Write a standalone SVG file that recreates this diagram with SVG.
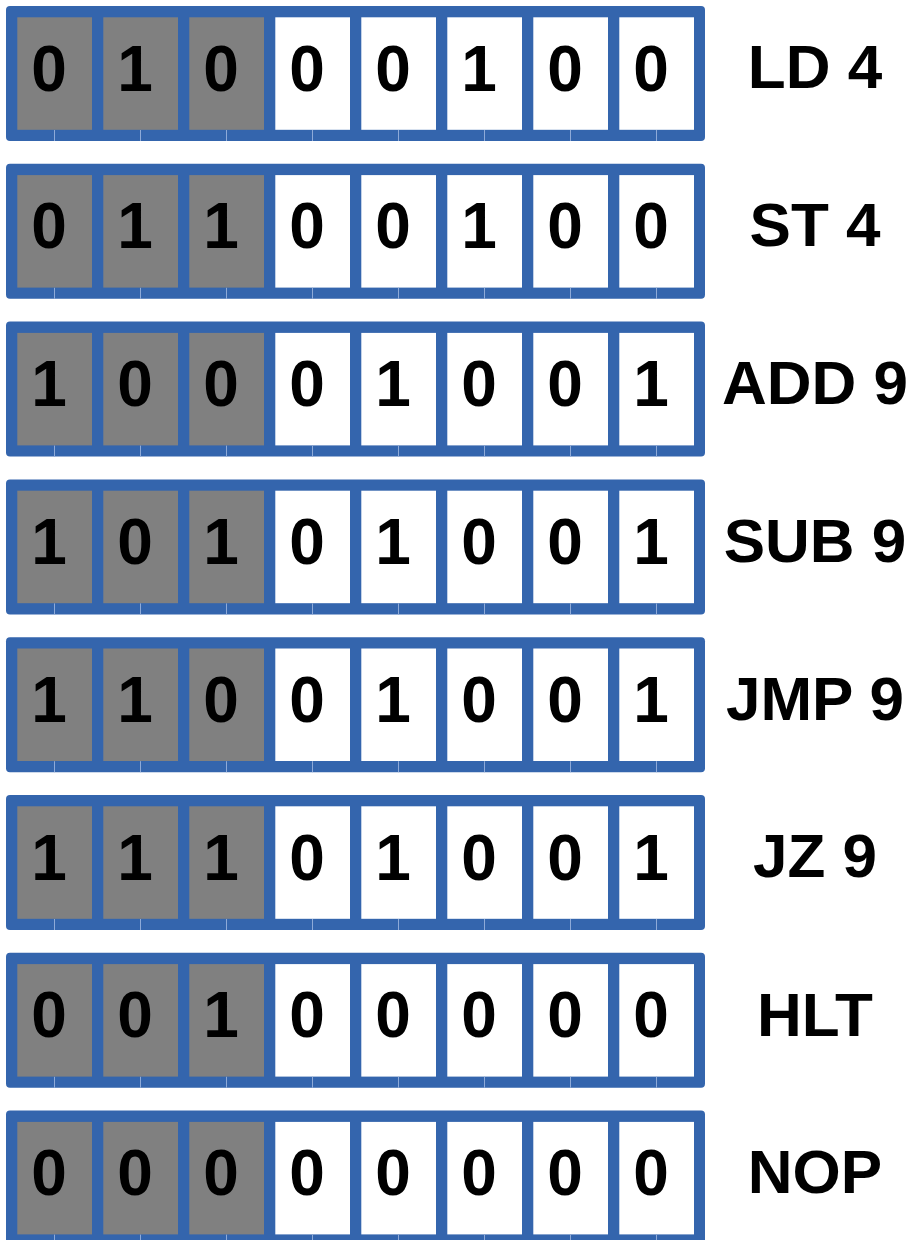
<svg xmlns="http://www.w3.org/2000/svg" width="921" height="1240" viewBox="0 0 921 1240">
<style>
.frame{fill:#3465ad}
.op{fill:#808080}
.arg{fill:#ffffff}
.tick{stroke:#8eaad8;stroke-width:1}
.bit{font-family:"Liberation Sans",Arial,sans-serif;font-weight:bold;font-size:64px;fill:#000;text-anchor:middle}
.lbl{font-family:"Liberation Sans",Arial,sans-serif;font-weight:bold;font-size:62px;fill:#000;text-anchor:middle}
</style>
<defs>
<g id="cells">
<rect class="frame" x="6" y="0" width="699" height="135" rx="4"/>
<rect class="op" x="17.3" y="11.3" width="74.7" height="112.5"/>
<rect class="op" x="103.3" y="11.3" width="74.7" height="112.5"/>
<rect class="op" x="189.3" y="11.3" width="74.7" height="112.5"/>
<rect class="arg" x="275.3" y="11.3" width="74.7" height="112.5"/>
<rect class="arg" x="361.3" y="11.3" width="74.7" height="112.5"/>
<rect class="arg" x="447.3" y="11.3" width="74.7" height="112.5"/>
<rect class="arg" x="533.3" y="11.3" width="74.7" height="112.5"/>
<rect class="arg" x="619.3" y="11.3" width="74.7" height="112.5"/>
<path class="tick" d="M54.5 124V135M140.5 124V135M226.5 124V135M312.5 124V135M398.5 124V135M484.5 124V135M570.5 124V135M656.5 124V135"/>
</g>
</defs>
<g id="row-ld4" transform="translate(0,6)">
<use href="#cells"/>
<text class="bit" y="84.5"><tspan x="49">0</tspan><tspan x="135">1</tspan><tspan x="221">0</tspan><tspan x="307">0</tspan><tspan x="393">0</tspan><tspan x="479">1</tspan><tspan x="565">0</tspan><tspan x="651">0</tspan></text>
<text class="lbl" x="815" y="81.5">LD 4</text>
</g>
<g id="row-st4" transform="translate(0,163.8)">
<use href="#cells"/>
<text class="bit" y="84.5"><tspan x="49">0</tspan><tspan x="135">1</tspan><tspan x="221">1</tspan><tspan x="307">0</tspan><tspan x="393">0</tspan><tspan x="479">1</tspan><tspan x="565">0</tspan><tspan x="651">0</tspan></text>
<text class="lbl" x="815" y="82">ST 4</text>
</g>
<g id="row-add9" transform="translate(0,321.6)">
<use href="#cells"/>
<text class="bit" y="84.5"><tspan x="49">1</tspan><tspan x="135">0</tspan><tspan x="221">0</tspan><tspan x="307">0</tspan><tspan x="393">1</tspan><tspan x="479">0</tspan><tspan x="565">0</tspan><tspan x="651">1</tspan></text>
<text class="lbl" x="815" y="82.4">ADD 9</text>
</g>
<g id="row-sub9" transform="translate(0,479.4)">
<use href="#cells"/>
<text class="bit" y="84.5"><tspan x="49">1</tspan><tspan x="135">0</tspan><tspan x="221">1</tspan><tspan x="307">0</tspan><tspan x="393">1</tspan><tspan x="479">0</tspan><tspan x="565">0</tspan><tspan x="651">1</tspan></text>
<text class="lbl" x="815" y="82.4">SUB 9</text>
</g>
<g id="row-jmp9" transform="translate(0,637.2)">
<use href="#cells"/>
<text class="bit" y="84.5"><tspan x="49">1</tspan><tspan x="135">1</tspan><tspan x="221">0</tspan><tspan x="307">0</tspan><tspan x="393">1</tspan><tspan x="479">0</tspan><tspan x="565">0</tspan><tspan x="651">1</tspan></text>
<text class="lbl" x="815" y="82.4">JMP 9</text>
</g>
<g id="row-jz9" transform="translate(0,795)">
<use href="#cells"/>
<text class="bit" y="84.5"><tspan x="49">1</tspan><tspan x="135">1</tspan><tspan x="221">1</tspan><tspan x="307">0</tspan><tspan x="393">1</tspan><tspan x="479">0</tspan><tspan x="565">0</tspan><tspan x="651">1</tspan></text>
<text class="lbl" x="815" y="82.4">JZ 9</text>
</g>
<g id="row-hlt" transform="translate(0,952.8)">
<use href="#cells"/>
<text class="bit" y="84.5"><tspan x="49">0</tspan><tspan x="135">0</tspan><tspan x="221">1</tspan><tspan x="307">0</tspan><tspan x="393">0</tspan><tspan x="479">0</tspan><tspan x="565">0</tspan><tspan x="651">0</tspan></text>
<text class="lbl" x="815" y="83">HLT</text>
</g>
<g id="row-nop" transform="translate(0,1110.6)">
<use href="#cells"/>
<text class="bit" y="84"><tspan x="49">0</tspan><tspan x="135">0</tspan><tspan x="221">0</tspan><tspan x="307">0</tspan><tspan x="393">0</tspan><tspan x="479">0</tspan><tspan x="565">0</tspan><tspan x="651">0</tspan></text>
<text class="lbl" x="815" y="82.4">NOP</text>
</g>
<g id="connectors"/>
</svg>
